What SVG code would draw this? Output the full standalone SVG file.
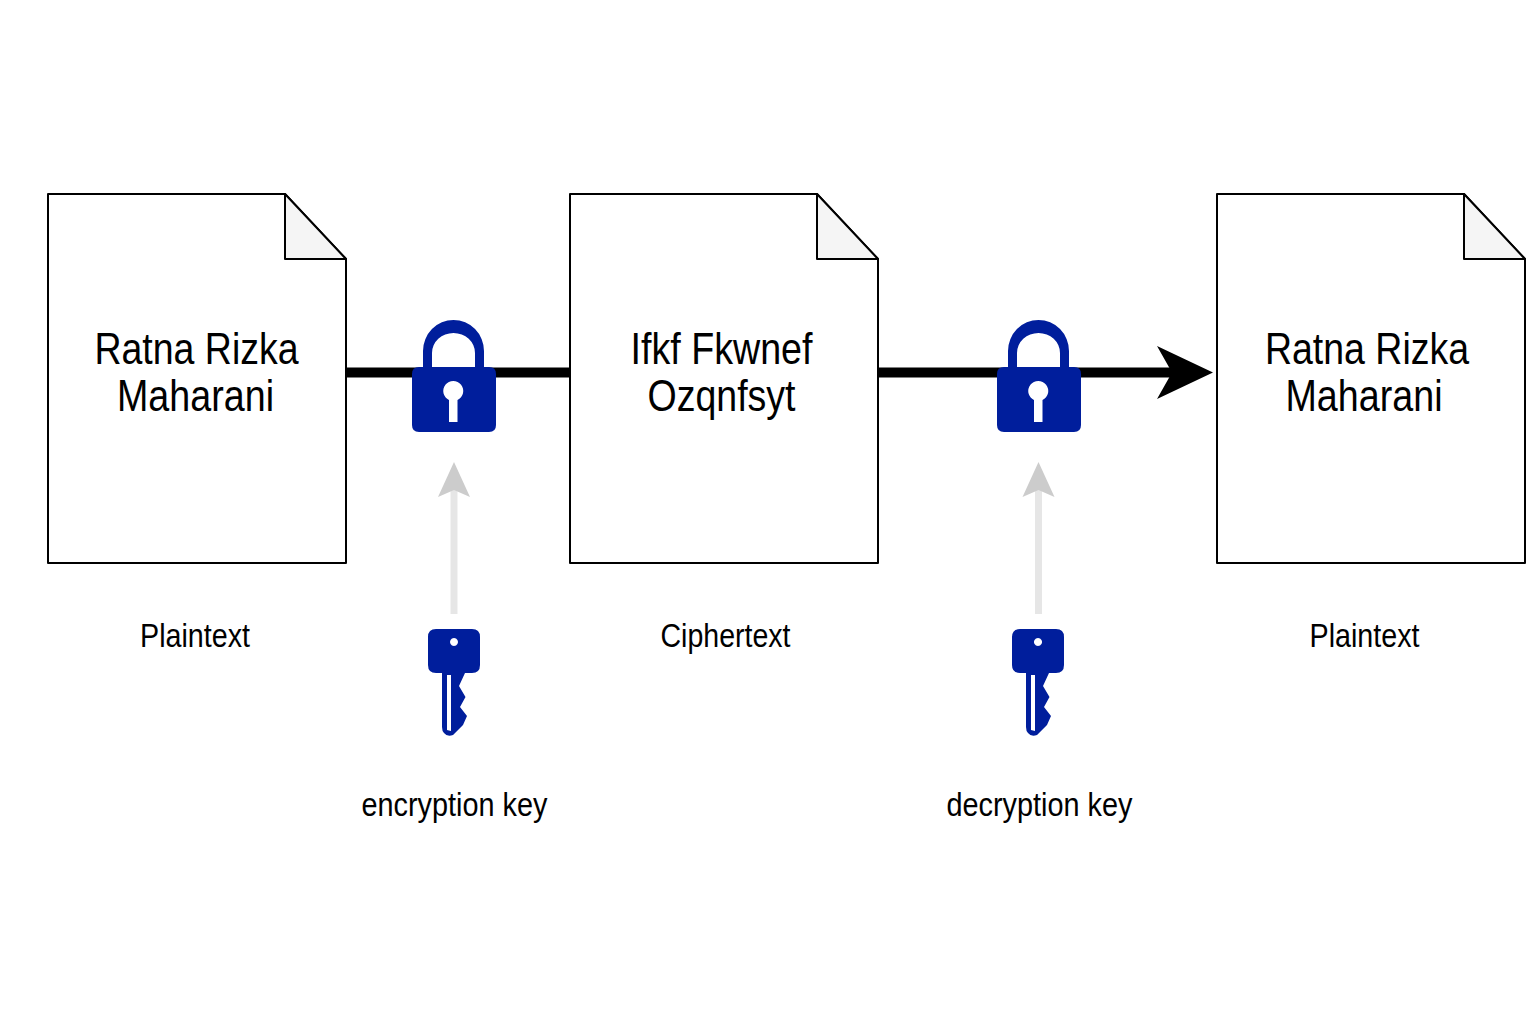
<svg xmlns="http://www.w3.org/2000/svg" width="1536" height="1024" viewBox="0 0 1536 1024">
<style>
.doc{fill:#fff;stroke:#000;stroke-width:2;stroke-linejoin:round}
.fold{fill:#f5f5f5;stroke:#000;stroke-width:2;stroke-linejoin:round}
.big{font-family:"Liberation Sans",Arial,sans-serif;font-size:44px;fill:#000;text-anchor:middle}
.small{font-family:"Liberation Sans",Arial,sans-serif;font-size:33px;fill:#000;text-anchor:middle}
.blue{fill:#001e9c}
.main{stroke:#000;stroke-width:10;fill:none}
.keyline{stroke:#e6e6e6;stroke-width:7;fill:none}
.keyhead{fill:#cccccc}
</style>
<defs>
<g id="lock">
<path class="blue" fill-rule="evenodd" d="M423 370V351a30.500 31 0 0 1 61 0V370H475V353a21.500 20 0 0 0-43 0V370Z"/>
<path class="blue" fill-rule="evenodd" d="M419 367H489Q496 367 496 374V425Q496 432 489 432H419Q412 432 412 425V374Q412 367 419 367ZM449 422H457.500V400A10 10 0 1 0 449 400Z"/>
</g>
<g id="key">
<path class="blue" fill-rule="evenodd" d="M436 629H472Q480 629 480 637V665Q480 673 472 673H465L459 686L465.500 697L460 707L467 716L463 725L453 735Q447 737 444 733Q442 731 442 727V673H436Q428 673 428 665V637Q428 629 436 629ZM454 638A4 4 0 1 0 454.010 638ZM447 675V730L451 731V675Z"/>
</g>
</defs>
<g id="connectors">
<path class="main" d="M346 372.500H570"/>
<path class="main" d="M878 372.500H1180"/>
<path d="M1213 372.500L1157 346L1172 372.500L1157 399Z" fill="#000"/>
<path class="keyline" d="M454 614V490"/>
<path class="keyhead" d="M454 462L438 497L454 490L470 497Z"/>
<path class="keyline" d="M1038.500 614V490"/>
<path class="keyhead" d="M1038.500 462L1022.500 497L1038.500 490L1054.500 497Z"/>
</g>
<g id="plaintext-doc">
<path class="doc" d="M48 194H285L346 259V563H48Z"/>
<path class="fold" d="M285 194L346 259H285Z"/>
<text class="big" x="196.500" y="364" textLength="204" lengthAdjust="spacingAndGlyphs">Ratna Rizka</text>
<text class="big" x="195.500" y="411" textLength="157" lengthAdjust="spacingAndGlyphs">Maharani</text>
</g>
<g id="ciphertext-doc">
<path class="doc" d="M570 194H817L878 259V563H570Z"/>
<path class="fold" d="M817 194L878 259H817Z"/>
<text class="big" x="721.500" y="364" textLength="182" lengthAdjust="spacingAndGlyphs">Ifkf Fkwnef</text>
<text class="big" x="721.500" y="411" textLength="148" lengthAdjust="spacingAndGlyphs">Ozqnfsyt</text>
</g>
<g id="result-doc">
<path class="doc" d="M1217 194H1464L1525 259V563H1217Z"/>
<path class="fold" d="M1464 194L1525 259H1464Z"/>
<text class="big" x="1367" y="364" textLength="204" lengthAdjust="spacingAndGlyphs">Ratna Rizka</text>
<text class="big" x="1364" y="411" textLength="157" lengthAdjust="spacingAndGlyphs">Maharani</text>
</g>
<g id="encrypt-lock"><use href="#lock"/></g>
<g id="decrypt-lock"><use href="#lock" x="585"/></g>
<g id="encrypt-key"><use href="#key"/></g>
<g id="decrypt-key"><use href="#key" x="584"/></g>
<g id="labels">
<text class="small" x="195" y="647" textLength="110" lengthAdjust="spacingAndGlyphs">Plaintext</text>
<text class="small" x="725.500" y="647" textLength="130" lengthAdjust="spacingAndGlyphs">Ciphertext</text>
<text class="small" x="1364.500" y="647" textLength="110" lengthAdjust="spacingAndGlyphs">Plaintext</text>
<text class="small" x="454.500" y="816" textLength="186" lengthAdjust="spacingAndGlyphs">encryption key</text>
<text class="small" x="1039.500" y="816" textLength="186" lengthAdjust="spacingAndGlyphs">decryption key</text>
</g>
</svg>
